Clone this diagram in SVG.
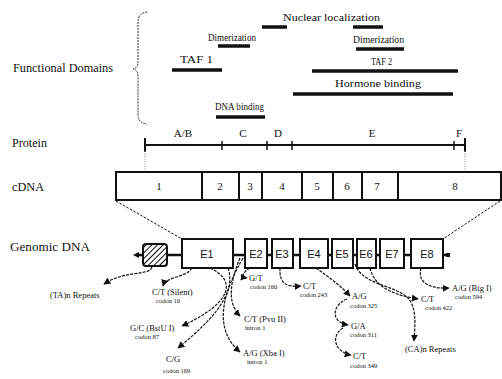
<svg xmlns="http://www.w3.org/2000/svg" width="502" height="379" viewBox="0 0 502 379">
<defs>
<style>
text{font-family:'Liberation Serif','Times New Roman','DejaVu Serif',serif;fill:#111}
.lbl{font-size:13px}
.dom{font-size:11px}
.num{font-size:11px;text-anchor:middle}
.ex{font-family:'Liberation Sans',Arial,sans-serif;font-size:11px;text-anchor:middle}
.sm{font-size:8.5px}
.cd{font-size:6.5px}
.bar{stroke:#111;stroke-width:3.5;fill:none}
.box{fill:#fff;stroke:#111;stroke-width:2}
.conn{fill:none;stroke:#111;stroke-width:1.2;stroke-dasharray:3 1.2}
.dash{fill:none;stroke:#111;stroke-width:1;stroke-dasharray:2.5 1.5}
.dot{fill:none;stroke:#888;stroke-width:1;stroke-dasharray:1 1.5}
</style>
<marker id="ah" viewBox="0 0 10 10" refX="9" refY="5" markerWidth="7" markerHeight="7" markerUnits="userSpaceOnUse" orient="auto">
<path d="M0,0 L10,5 L0,10 Z" fill="#111"/>
</marker>
<pattern id="hatch" width="4" height="4" patternUnits="userSpaceOnUse" patternTransform="rotate(45)">
<rect width="4" height="4" fill="#fff"/>
<line x1="0" y1="0" x2="0" y2="4" stroke="#111" stroke-width="2"/>
</pattern>
</defs>
<rect width="502" height="379" fill="#fff"/>

<g id="row-labels">
<text class="lbl" x="13" y="72" textLength="100" lengthAdjust="spacingAndGlyphs">Functional Domains</text>
<text class="lbl" x="12" y="147" textLength="35" lengthAdjust="spacingAndGlyphs">Protein</text>
<text class="lbl" x="12" y="191" textLength="32" lengthAdjust="spacingAndGlyphs">cDNA</text>
<text class="lbl" x="10" y="251" textLength="80" lengthAdjust="spacingAndGlyphs">Genomic DNA</text>
</g>

<g id="brace">
<path d="M147,12 Q138,13 138,22 L138,62 Q138,68 133,69 Q138,70 138,76 L138,115 Q138,123 147,124" fill="none" stroke="#333" stroke-width="1" stroke-dasharray="2 1"/>
</g>

<g id="nuclear-localization">
<text class="dom" x="283" y="21" textLength="97" lengthAdjust="spacingAndGlyphs">Nuclear localization</text>
<line class="bar" x1="262" y1="27" x2="287" y2="27"/>
<line class="bar" x1="353" y1="27" x2="383" y2="27"/>
</g>
<g id="dimerization-1">
<text class="dom" x="208" y="41" textLength="48" lengthAdjust="spacingAndGlyphs">Dimerization</text>
<line class="bar" x1="218" y1="46" x2="250" y2="46"/>
</g>
<g id="dimerization-2">
<text class="dom" x="353" y="43" textLength="51" lengthAdjust="spacingAndGlyphs">Dimerization</text>
<line class="bar" x1="356" y1="49" x2="404" y2="49"/>
</g>
<g id="taf1">
<text class="dom" x="180" y="63" textLength="33" lengthAdjust="spacingAndGlyphs">TAF 1</text>
<line class="bar" x1="172" y1="70" x2="222" y2="70"/>
</g>
<g id="taf2">
<text class="dom" x="371" y="65" textLength="21" lengthAdjust="spacingAndGlyphs">TAF 2</text>
<line class="bar" x1="312" y1="71" x2="458" y2="71"/>
</g>
<g id="hormone-binding">
<text class="dom" x="335" y="87" textLength="86" lengthAdjust="spacingAndGlyphs">Hormone binding</text>
<line class="bar" x1="293" y1="94" x2="453" y2="94"/>
</g>
<g id="dna-binding">
<text class="dom" x="215" y="110" textLength="49" lengthAdjust="spacingAndGlyphs">DNA binding</text>
<line class="bar" x1="216" y1="117" x2="265" y2="117"/>
</g>

<g id="protein">
<line x1="145" y1="145" x2="465" y2="145" stroke="#111" stroke-width="2"/>
<line x1="145" y1="138" x2="145" y2="152" stroke="#111" stroke-width="2"/>
<line x1="465" y1="138" x2="465" y2="152" stroke="#111" stroke-width="2"/>
<line x1="222" y1="141" x2="222" y2="150" stroke="#111" stroke-width="1.5"/>
<line x1="267" y1="141" x2="267" y2="150" stroke="#111" stroke-width="1.5"/>
<line x1="292" y1="141" x2="292" y2="150" stroke="#111" stroke-width="1.5"/>
<line x1="454" y1="141" x2="454" y2="150" stroke="#111" stroke-width="1.5"/>
<text class="num" x="183" y="137" font-size="10">A/B</text>
<text class="num" x="243" y="137" font-size="10">C</text>
<text class="num" x="278" y="137" font-size="10">D</text>
<text class="num" x="372" y="137" font-size="10">E</text>
<text class="num" x="459" y="137" font-size="10">F</text>
</g>

<g id="cdna">
<rect class="box" x="116" y="172" width="385" height="28"/>
<line x1="202" y1="172" x2="202" y2="200" stroke="#111" stroke-width="2"/>
<line x1="239" y1="172" x2="239" y2="200" stroke="#111" stroke-width="2"/>
<line x1="262" y1="172" x2="262" y2="200" stroke="#111" stroke-width="2"/>
<line x1="302" y1="172" x2="302" y2="200" stroke="#111" stroke-width="2"/>
<line x1="333" y1="172" x2="333" y2="200" stroke="#111" stroke-width="2"/>
<line x1="362" y1="172" x2="362" y2="200" stroke="#111" stroke-width="2"/>
<line x1="398" y1="172" x2="398" y2="200" stroke="#111" stroke-width="2"/>
<text class="num" x="159" y="190">1</text>
<text class="num" x="220" y="190">2</text>
<text class="num" x="250" y="190">3</text>
<text class="num" x="282" y="190">4</text>
<text class="num" x="317" y="190">5</text>
<text class="num" x="347" y="190">6</text>
<text class="num" x="377" y="190">7</text>
<text class="num" x="455" y="190">8</text>
</g>

<g id="genomic-line">
<line x1="137" y1="255" x2="448" y2="255" stroke="#111" stroke-width="2.5"/>
<path d="M133,255 L139,252 L139,258 Z" fill="#111"/>
<rect x="446" y="253" width="4" height="4" fill="#111"/>
</g>
<g id="promoter"><rect x="143" y="244" width="24" height="22" rx="3" fill="url(#hatch)" stroke="#111" stroke-width="2"/></g>
<g id="E1"><rect class="box" x="182" y="239" width="51" height="29"/><text class="ex" x="207" y="258">E1</text></g>
<g id="E2"><rect class="box" x="245" y="239" width="22" height="29"/><text class="ex" x="256" y="258">E2</text></g>
<g id="E3"><rect class="box" x="272" y="239" width="21" height="29"/><text class="ex" x="282" y="258">E3</text></g>
<g id="E4"><rect class="box" x="300" y="239" width="28" height="29"/><text class="ex" x="314" y="258">E4</text></g>
<g id="E5"><rect class="box" x="332" y="239" width="21" height="29"/><text class="ex" x="342" y="258">E5</text></g>
<g id="E6"><rect class="box" x="357" y="239" width="19" height="29"/><text class="ex" x="366" y="258">E6</text></g>
<g id="E7"><rect class="box" x="380" y="239" width="24" height="29"/><text class="ex" x="392" y="258">E7</text></g>
<g id="E8"><rect class="box" x="411" y="239" width="32" height="29"/><text class="ex" x="427" y="258">E8</text></g>

<g id="connectors">
<line class="dot" x1="145" y1="151" x2="145" y2="171"/>
<line class="dot" x1="465" y1="151" x2="465" y2="171"/>
<line class="dash" x1="116" y1="201" x2="182" y2="239"/>
<line class="dash" x1="500" y1="201" x2="443" y2="239"/>
<path class="conn" marker-end="url(#ah)" d="M152,267 C150,276 125,270 104,284"/>
<path class="conn" marker-end="url(#ah)" d="M192,268 C186,278 166,276 163,286"/>
<path class="conn" marker-end="url(#ah)" d="M210,268 C236,280 234,302 182,326"/>
<path class="conn" marker-end="url(#ah)" d="M228,268 C238,296 205,326 178,348"/>
<path class="conn" marker-end="url(#ah)" d="M240,258 C231,280 226,302 240,316"/>
<path class="conn" marker-end="url(#ah)" d="M243,258 C221,296 214,330 240,352"/>
<path class="conn" marker-end="url(#ah)" d="M250,268 C243,272 240,277 247,278"/>
<path class="conn" marker-end="url(#ah)" d="M280,268 C279,285 288,287 301,286"/>
<path class="conn" marker-end="url(#ah)" d="M316,268 C330,278 340,285 350,296"/>
<path class="conn" marker-end="url(#ah)" d="M347,299 C332,305 330,322 348,325"/>
<path class="conn" marker-end="url(#ah)" d="M343,328 C330,336 335,352 351,355"/>
<path class="conn" marker-end="url(#ah)" d="M355,264 C362,285 395,285 408,298 C417,308 415,325 414,341"/>
<path class="conn" marker-end="url(#ah)" d="M370,268 C375,290 400,296 418,299"/>
<path class="conn" marker-end="url(#ah)" d="M421,268 C417,283 430,289 449,288"/>
</g>

<g id="variant-labels">
<text class="sm" x="50" y="298">(TA)n Repeats</text>
<text class="sm" x="152" y="295">C/T (Silent)</text>
<text class="cd" x="156" y="303">codon 10</text>
<text class="sm" x="130" y="331">G/C (BstU I)</text>
<text class="cd" x="135" y="339">codon 87</text>
<text class="sm" x="166" y="362">C/G</text>
<text class="cd" x="163" y="373">codon 169</text>
<text class="sm" x="244" y="322">C/T (Pvu II)</text>
<text class="cd" x="245" y="330">intron 1</text>
<text class="sm" x="243" y="356">A/G (Xba I)</text>
<text class="cd" x="247" y="364">intron 1</text>
<text class="sm" x="249" y="281">G/T</text>
<text class="cd" x="250" y="289">codon 160</text>
<text class="sm" x="303" y="289">C/T</text>
<text class="cd" x="300" y="297">codon 243</text>
<text class="sm" x="352" y="299">A/G</text>
<text class="cd" x="350" y="308">codon 325</text>
<text class="sm" x="351" y="329">G/A</text>
<text class="cd" x="350" y="337">codon 311</text>
<text class="sm" x="353" y="359">C/T</text>
<text class="cd" x="350" y="368">codon 349</text>
<text class="sm" x="405" y="352">(CA)n Repeats</text>
<text class="sm" x="421" y="302">C/T</text>
<text class="cd" x="425" y="310">codon 422</text>
<text class="sm" x="452" y="291">A/G (Btg I)</text>
<text class="cd" x="455" y="299">codon 594</text>
</g>
</svg>
